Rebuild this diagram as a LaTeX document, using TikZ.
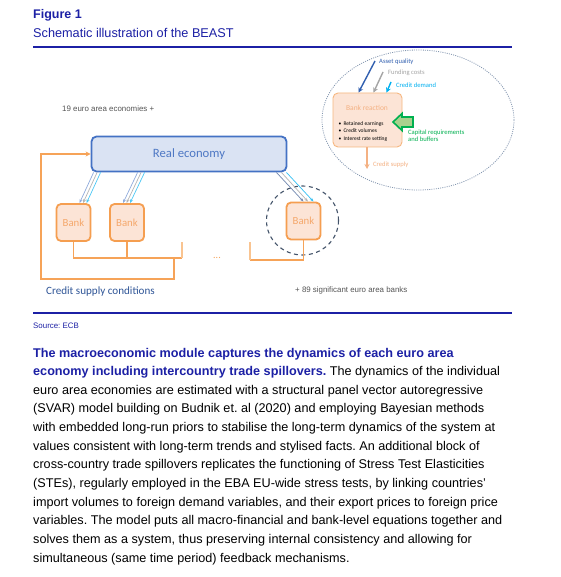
\documentclass[tikz,border=0pt]{standalone}
\usepackage{fontspec}
\setmainfont{Liberation Sans}
\newfontfamily\calibri{Carlito}
\usetikzlibrary{arrows.meta,shapes.geometric}
\frenchspacing
\definecolor{ecbblue}{RGB}{28,32,165}
\definecolor{refill}{RGB}{218,227,243}
\definecolor{restroke}{RGB}{68,114,196}
\definecolor{retext}{RGB}{78,120,196}
\definecolor{bankfill}{RGB}{252,228,214}
\definecolor{bankstroke}{RGB}{245,158,80}
\definecolor{banktext}{RGB}{245,168,108}
\definecolor{fborange}{RGB}{246,163,88}
\definecolor{lightorange}{RGB}{249,196,145}
\definecolor{rboxstroke}{RGB}{246,183,128}
\definecolor{rtext}{RGB}{244,177,131}
\definecolor{csc}{RGB}{47,85,151}
\definecolor{dashblue}{RGB}{68,84,106}
\definecolor{ellgray}{RGB}{132,151,176}
\definecolor{aqblue}{RGB}{50,96,176}
\definecolor{fcgray}{RGB}{165,165,165}
\definecolor{cdcyan}{RGB}{0,176,240}
\definecolor{lgreen}{RGB}{169,209,142}
\definecolor{dgreen}{RGB}{0,176,80}
\definecolor{lineblue}{RGB}{143,170,220}
\definecolor{linegray}{RGB}{180,180,180}
\definecolor{labgray}{RGB}{85,85,85}
\tikzset{
  body/.style={anchor=base west, inner sep=0, font=\fontsize{12.65}{15}\selectfont},
  rebox/.style={draw=restroke, fill=refill, line width=1.8pt, rounded corners=5pt,
    minimum width=195pt, minimum height=35pt, text=retext,
    font=\calibri\fontsize{12.7}{15}\selectfont},
  bankbox/.style={draw=bankstroke, fill=bankfill, line width=1.8pt, rounded corners=4.5pt,
    minimum width=34pt, minimum height=37pt, text=banktext,
    font=\calibri\fontsize{10.8}{13}\selectfont},
  busline/.style={draw=fborange, line width=1.3pt},
  busend/.style={draw=lightorange, line width=1.3pt},
  thinarrow/.style={line width=0.7pt, -{Stealth[length=4pt,width=3pt]}},
  smalllab/.style={anchor=base west, inner sep=0, font=\calibri\fontsize{6.6}{8}\selectfont},
  bullettext/.style={anchor=base west, inner sep=0, font=\calibri\fontsize{5.5}{7}\selectfont, text=black},
  graylab/.style={anchor=west, inner sep=0, text=labgray, font=\fontsize{7.9}{9.5}\selectfont},
  inarrow/.style={line width=1.4pt, -{Stealth[length=5pt,width=5pt]}}
}
\begin{document}
\begin{tikzpicture}[x=1pt,y=-1pt]
\useasboundingbox (0,0) rectangle (560,577);
\fill[white] (0,0) rectangle (560,577);

% header
\node[anchor=base west, inner sep=0, text=ecbblue, font=\fontsize{12.5}{14}\selectfont\bfseries] (fig) at (33,18.2) {Figure 1};
\node[anchor=base west, inner sep=0, text=ecbblue, font=\fontsize{12.7}{14}\selectfont] (sub) at (33,37.3) {Schematic illustration of the BEAST};
\draw[ecbblue, line width=1.3pt] (33,47) -- (512,47);

% right ellipse detail
\node[ellipse, draw=ellgray, line width=0.8pt, dash pattern=on 1pt off 1.2pt, minimum width=192pt, minimum height=140pt] (ell) at (418,120) {};
\node[draw=rboxstroke, fill=bankfill, line width=0.9pt, rounded corners=5pt, minimum width=69pt, minimum height=54pt] (rbox) at (367.5,120) {};
\node[inner sep=0, text=rtext, font=\calibri\fontsize{7.5}{9}\selectfont] (rtitle) at (367,108.3) {Bank reaction};
\node[bullettext] (b1) at (338.5,125.6) {\makebox[4.8pt][l]{\textbullet}Retained earnings};
\node[bullettext] (b2) at (338.5,132.3) {\makebox[4.8pt][l]{\textbullet}Credit volumes};
\node[bullettext] (b3) at (338.5,140.2) {\makebox[4.8pt][l]{\textbullet}Interest rate setting};

\node[smalllab, text=aqblue] (aq) at (379,63.5) {Asset quality};
\node[smalllab, text=fcgray] (fc) at (388,74.5) {Funding costs};
\node[smalllab, text=cdcyan] (cd) at (396,88) {Credit demand};
\coordinate (aqs) at (375,61);
\coordinate (fcs) at (383,72);
\coordinate (cds) at (391,82);
\draw[inarrow, aqblue] (aqs) -- ([xshift=-9pt]rbox.north);
\draw[inarrow, fcgray] (fcs) -- ([xshift=6pt]rbox.north);
\draw[inarrow, cdcyan] (cds) -- ([xshift=19pt]rbox.north);

\draw[dgreen, fill=lgreen, line width=1.6pt, line join=miter]
  (413,117) -- (402,117) -- (402,113.5) -- (393,122) -- (402,130.5) -- (402,127) -- (413,127) -- cycle;
\node[smalllab, text=dgreen] (cap1) at (408,134.5) {Capital requirements};
\node[smalllab, text=dgreen] (cap2) at (408,141.8) {and buffers};

\coordinate (cse) at (367,169);
\draw[line width=1.2pt, rtext, -{Stealth[length=5pt,width=5pt]}] (rbox.south -| cse) -- (cse);
\node[smalllab, text=rtext] (cs) at (373,166.3) {Credit supply};

% left main diagram
\node[graylab] (ea) at (62,109) {19 euro area economies +};
\node[rebox] (re) at (189,154) {Real economy};
\node[bankbox] (bank1) at (73.5,222.5) {Bank};
\node[bankbox] (bank2) at (127,222.5) {Bank};
\node[bankbox] (bank3) at (303.5,221) {Bank};
\node[ellipse, draw=dashblue, line width=1.1pt, dash pattern=on 4pt off 3.5pt, minimum width=72pt, minimum height=69pt] (circ) at (302.5,220.5) {};

% arrows real economy -> banks
\draw[thinarrow, lineblue] ([xshift=3pt]re.south west) -- ([xshift=6pt]bank1.north);
\draw[thinarrow, linegray] ([xshift=6.5pt]re.south west) -- ([xshift=9.5pt]bank1.north);
\draw[thinarrow, cdcyan!70] ([xshift=10pt]re.south west) -- ([xshift=13pt]bank1.north);
\draw[thinarrow, lineblue] ([xshift=47pt]re.south west) -- ([xshift=-4pt]bank2.north);
\draw[thinarrow, linegray] ([xshift=50.5pt]re.south west) -- ([xshift=-0.5pt]bank2.north);
\draw[thinarrow, cdcyan!70] ([xshift=54pt]re.south west) -- ([xshift=3pt]bank2.north);
\draw[thinarrow, lineblue!80!black] ([xshift=-11pt]re.south east) -- ([xshift=0pt]bank3.north);
\draw[thinarrow, linegray] ([xshift=-6pt]re.south east) -- ([xshift=4.5pt]bank3.north);
\draw[thinarrow, cdcyan!80] ([xshift=-1pt]re.south east) -- ([xshift=10pt]bank3.north);

% bus lines
\coordinate (busL) at (73.5,258);
\coordinate (fbj) at (174,258);
\coordinate (busR) at (182,258);
\coordinate (busRend) at (182,242);
\coordinate (fbb) at (174,279);
\coordinate (fbc) at (41,279);
\draw[busline] (bank1.south) -- (busL) -- (busR);
\draw[busline] (bank2.south) -- (bank2.south |- busL);
\draw[busend] (busR) -- (busRend);
\coordinate (r1) at (303.5,260);
\coordinate (r2) at (250,260);
\coordinate (r3) at (250,242);
\draw[busline] (bank3.south) -- (r1) -- (r2);
\draw[busend] (r2) -- (r3);
\draw[busline, -{Stealth[length=5pt,width=5pt]}] (fbj) -- (fbb) -- (fbc) |- (re.west);
\node[inner sep=0, text=fborange, font=\calibri\fontsize{10}{12}\selectfont] (dots) at (217,258) {...};

\node[anchor=west, inner sep=0, text=csc, font=\calibri\fontsize{11.1}{13}\selectfont] (csclab) at (46,292) {Credit supply conditions};
\node[graylab] (sig) at (295,290) {+ 89 significant euro area banks};

% footer rule and source
\draw[ecbblue, line width=1.3pt] (33,313) -- (512,313);
\node[anchor=base west, inner sep=0, text=ecbblue, font=\fontsize{7.9}{9}\selectfont] (src) at (33,328.8) {Source: ECB};

% body text
\node[body, text=ecbblue, font=\fontsize{12.65}{15}\selectfont\bfseries] (l1) at (33,357) {The macroeconomic module captures the dynamics of each euro area};
\node[body] (l2) at (33,375.65) {{\bfseries\color{ecbblue}economy including intercountry trade spillovers.} The dynamics of the individual};
\node[body] (l3) at (33,394.3) {euro area economies are estimated with a structural panel vector autoregressive};
\node[body] (l4) at (33,412.95) {(SVAR) model building on Budnik et. al (2020) and employing Bayesian methods};
\node[body] (l5) at (33,431.6) {with embedded long-run priors to stabilise the long-term dynamics of the system at};
\node[body] (l6) at (33,450.25) {values consistent with long-term trends and stylised facts. An additional block of};
\node[body] (l7) at (33,468.9) {cross-country trade spillovers replicates the functioning of Stress Test Elasticities};
\node[body] (l8) at (33,487.55) {(STEs), regularly employed in the EBA EU-wide stress tests, by linking countries’};
\node[body] (l9) at (33,506.2) {import volumes to foreign demand variables, and their export prices to foreign price};
\node[body] (l10) at (33,524.85) {variables. The model puts all macro-financial and bank-level equations together and};
\node[body] (l11) at (33,543.5) {solves them as a system, thus preserving internal consistency and allowing for};
\node[body] (l12) at (33,562.15) {simultaneous (same time period) feedback mechanisms.};
\end{tikzpicture}
\end{document}
